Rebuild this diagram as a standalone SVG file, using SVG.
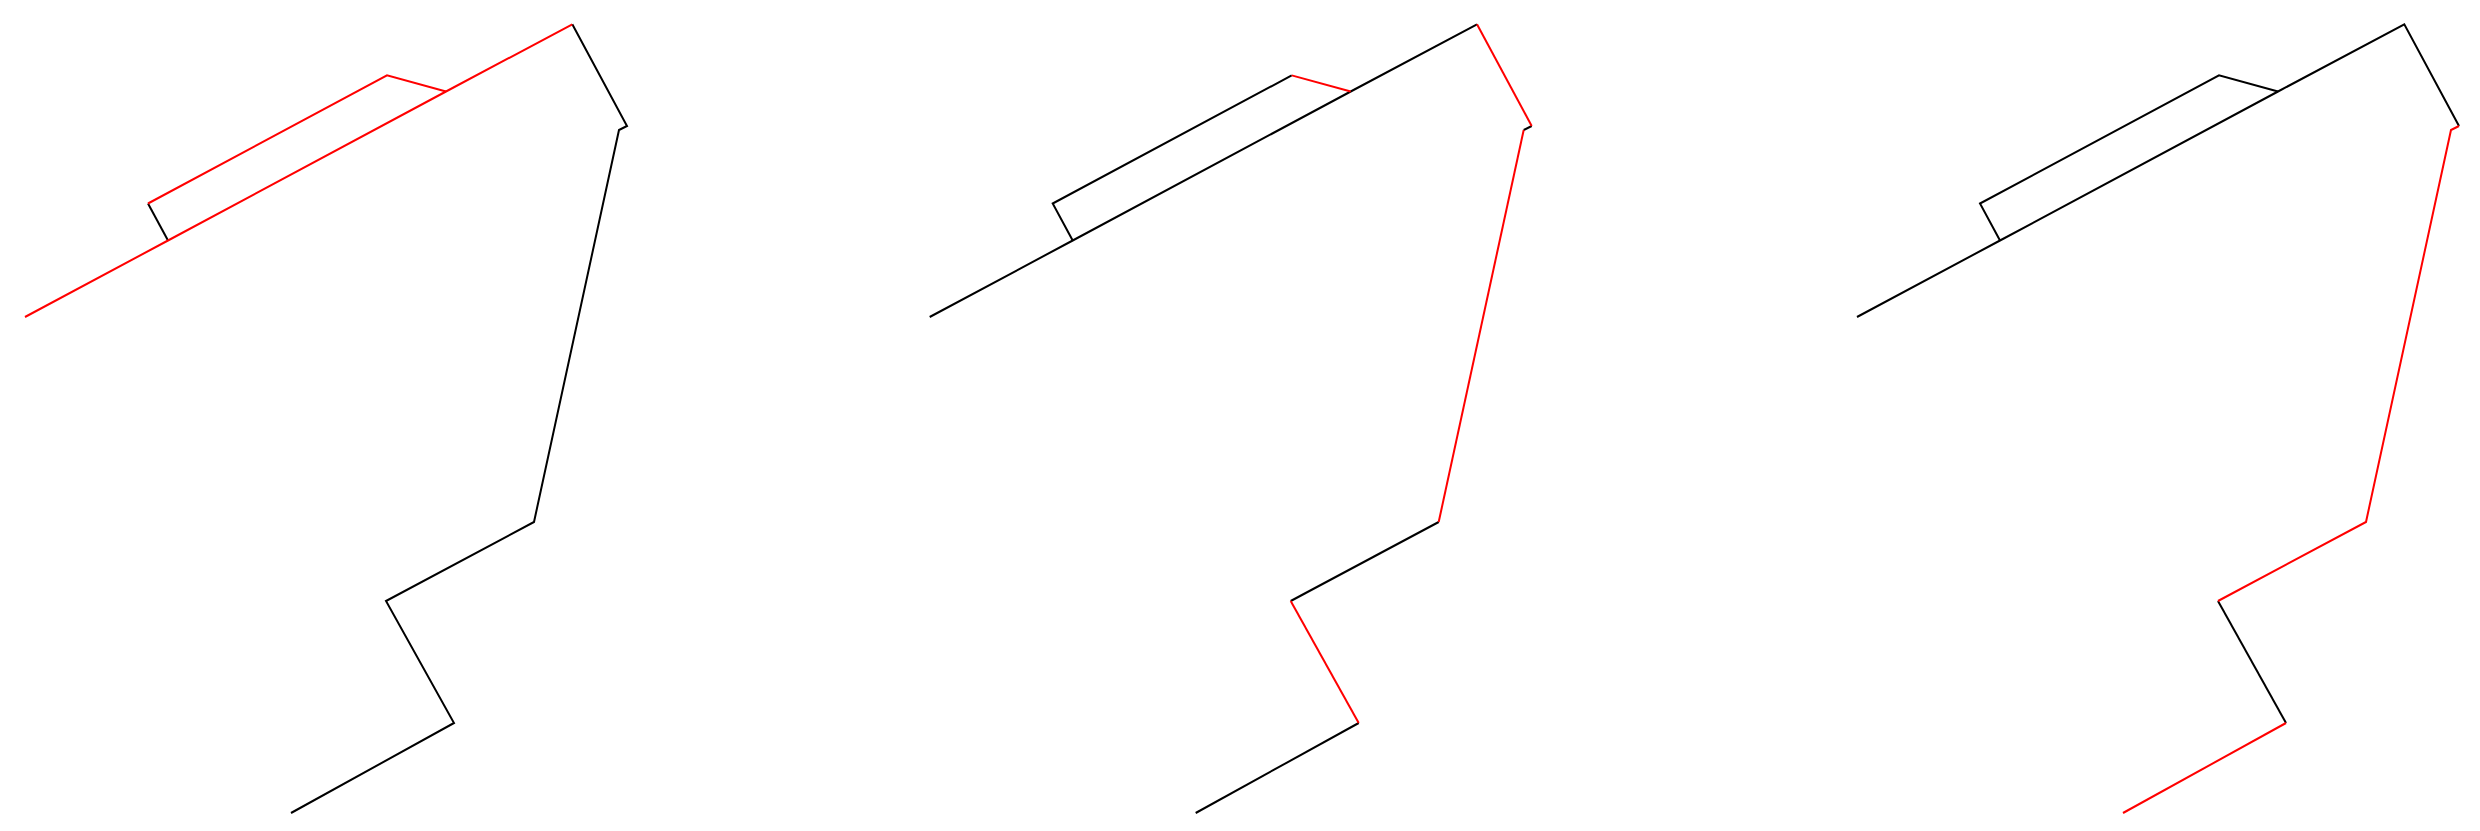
<svg xmlns="http://www.w3.org/2000/svg" width="2480" height="831" viewBox="0 0 2480 831">
<style>
.k{fill:none;stroke:#000;stroke-width:2;stroke-linejoin:miter;stroke-linecap:butt}
.r{fill:none;stroke:#ff0000;stroke-width:2;stroke-linejoin:miter;stroke-linecap:butt}
</style>
<rect width="2480" height="831" fill="#fff"/>
<g id="panel1">
<polyline class="k" points="168,240.5 148,203.5"/>
<polyline class="k" points="572.3,24.3 627,126 619,130 534,522 386,601 454,723 291,813"/>
<polyline class="r" points="25,317 168,240.5 446,91.5 572.3,24.3"/>
<polyline class="r" points="148,203.5 387,75.4 446,91.5"/>
</g>
<g id="panel2" transform="translate(904.7,0)">
<polyline class="k" points="25,317 168,240.5 446,91.5 572.3,24.3"/>
<polyline class="k" points="168,240.5 148,203.5 387,75.4"/>
<polyline class="k" points="627,126 619,130"/>
<polyline class="k" points="534,522 386,601"/>
<polyline class="k" points="454,723 291,813"/>
<polyline class="r" points="387,75.4 446,91.5"/>
<polyline class="r" points="572.3,24.3 627,126"/>
<polyline class="r" points="619,130 534,522"/>
<polyline class="r" points="386,601 454,723"/>
</g>
<g id="panel3" transform="translate(1832,0)">
<polyline class="k" points="25,317 168,240.5 446,91.5 572.3,24.3 627,126"/>
<polyline class="k" points="168,240.5 148,203.5 387,75.4 446,91.5"/>
<polyline class="k" points="386,601 454,723"/>
<polyline class="r" points="627,126 619,130 534,522 386,601"/>
<polyline class="r" points="454,723 291,813"/>
</g>
</svg>
